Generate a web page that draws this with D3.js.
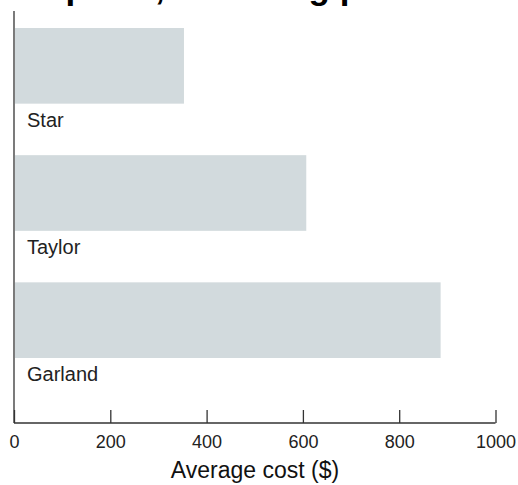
<!DOCTYPE html>
<html>
<head>
<meta charset="utf-8">
<script src="https://cdn.jsdelivr.net/npm/d3@7"></script>
<style>
  html, body { margin: 0; padding: 0; background: #fff; }
  svg { display: block; font-family: "Liberation Sans", Arial, Helvetica, sans-serif; }
</style>
</head>
<body>
<svg id="chart" width="518" height="485"></svg>
<script>
const categories = ["Star", "Taylor", "Garland"];
const values = [353, 607, 886];
const xTicks = [0, 200, 400, 600, 800, 1000];
const titleText = "All picks, including prices";
const xAxisTitle = "Average cost ($)";

const svg = d3.select("#chart");
const x = d3.scaleLinear().domain([0, 1000]).range([14, 495.5]);
const y = d3.scaleBand().domain(categories).range([28, 358]).paddingInner(0.405).paddingOuter(0);

// title (cut off at the top edge, as in the reference)
svg.append("text")
  .attr("x", 11).attr("y", -1)
  .attr("font-size", 35).attr("font-weight", "bold").attr("fill", "#000")
  .text(titleText);

// bars
svg.append("g").selectAll("rect").data(categories).join("rect")
  .attr("x", x(0) + 1)
  .attr("y", d => y(d))
  .attr("width", (d, i) => x(values[i]) - x(0) - 1)
  .attr("height", y.bandwidth())
  .attr("fill", "#d2dadd");

// bar labels
svg.append("g").selectAll("text").data(categories).join("text")
  .attr("x", 27)
  .attr("y", d => y(d) + y.bandwidth() + 23)
  .attr("font-size", 20).attr("fill", "#222")
  .text(d => d);

// x axis
const xAxis = d3.axisBottom(x).tickValues(xTicks).tickSize(-13).tickPadding(0).tickFormat(d3.format("d"));
const gx = svg.append("g").attr("transform", "translate(0,423)").call(xAxis);
gx.select(".domain").attr("stroke", "#333").attr("stroke-width", 1.3).attr("d", `M${x(0)},0H${x(1000)}`);
gx.selectAll(".tick line").attr("stroke", "#333").attr("stroke-width", 1.3);
gx.selectAll(".tick text").attr("font-size", 18).attr("fill", "#222").attr("font-family", "Liberation Sans, Arial, sans-serif")
  .attr("y", 12).attr("dy", "0.71em");

// y axis line
svg.append("line")
  .attr("x1", x(0)).attr("x2", x(0))
  .attr("y1", 11).attr("y2", 423)
  .attr("stroke", "#333").attr("stroke-width", 1.3);

// x axis title
svg.append("text")
  .attr("x", 255).attr("y", 478)
  .attr("text-anchor", "middle")
  .attr("font-size", 23).attr("fill", "#111")
  .text(xAxisTitle);
</script>
</body>
</html>
